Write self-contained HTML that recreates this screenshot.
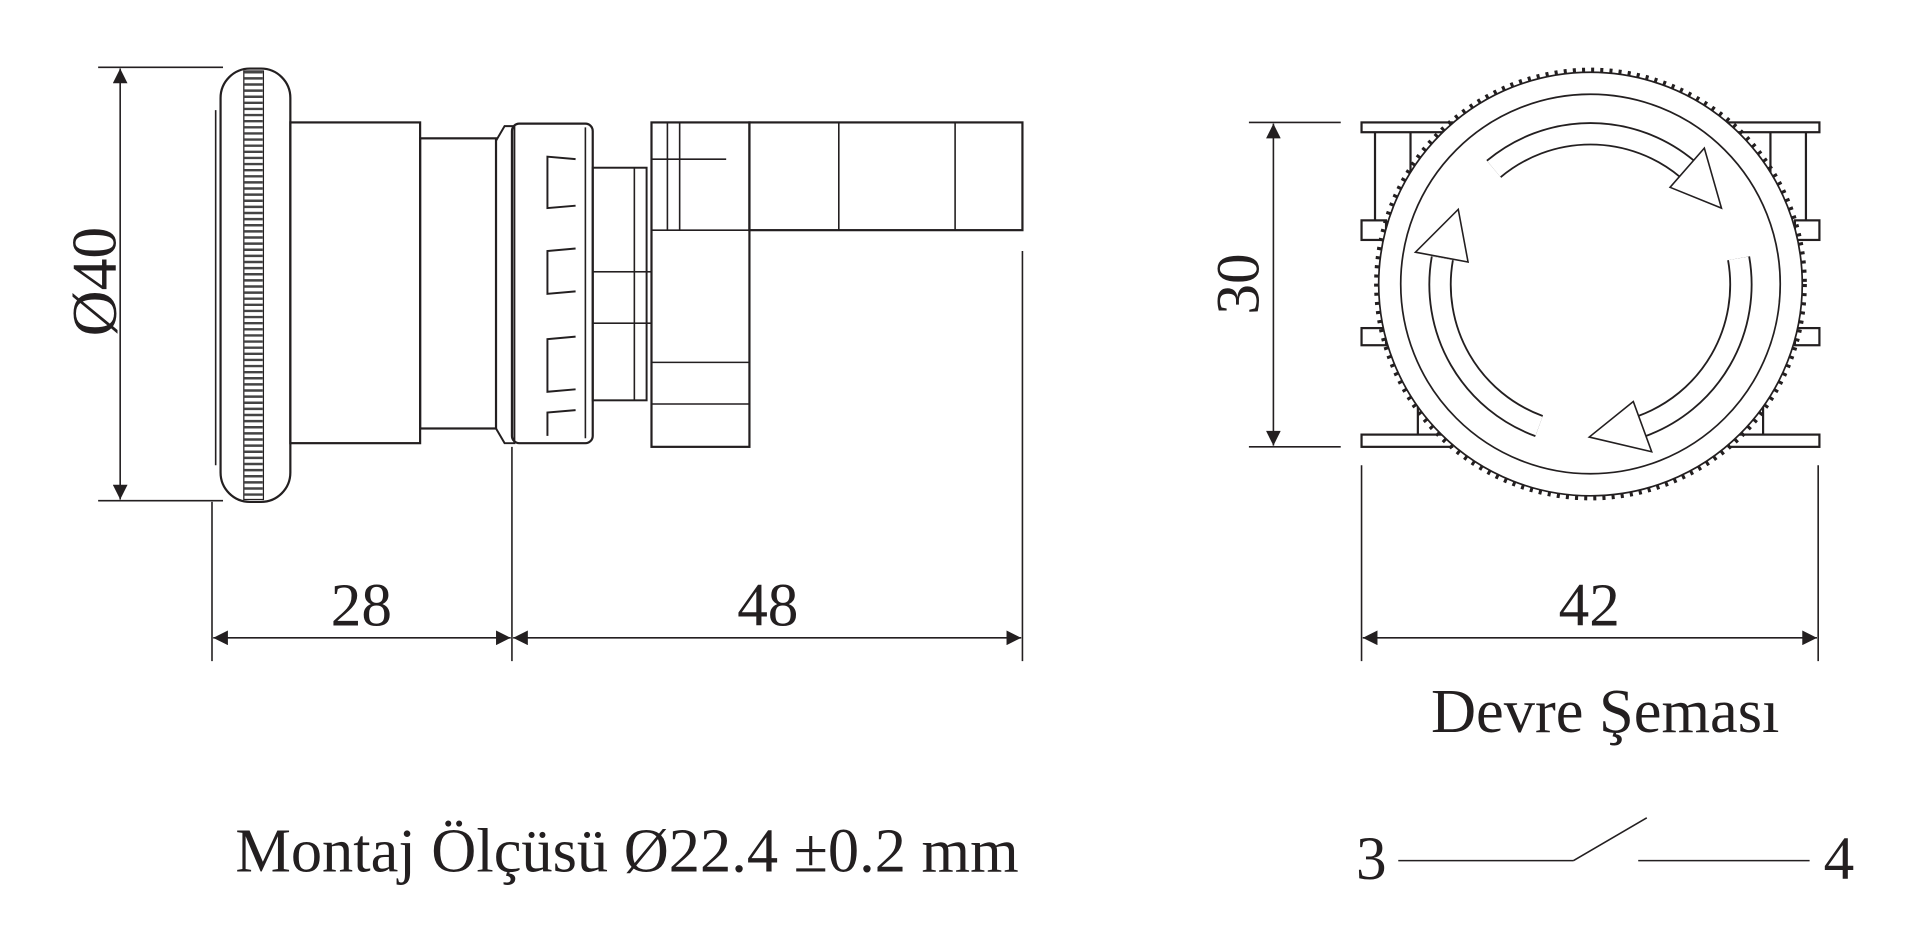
<!DOCTYPE html>
<html><head><meta charset="utf-8"><style>
html,body{margin:0;padding:0;background:#fff;}
svg{display:block}
text{font-family:"Liberation Serif",serif;fill:#231f20}
</style></head><body>
<svg width="1920" height="950" viewBox="0 0 1568 776" xmlns="http://www.w3.org/2000/svg">
<defs>
<marker id="a" viewBox="0 0 10 10" refX="10" refY="5" markerWidth="36" markerHeight="12" markerUnits="userSpaceOnUse" orient="auto-start-reverse"><path d="M0,0 L10,5 L0,10 z" fill="#231f20"/></marker>
</defs>
<g stroke="#231f20" fill="none" stroke-width="1.3">
<!-- LEFT dims -->
<line x1="80" y1="55" x2="182" y2="55"/><line x1="80" y1="409" x2="182" y2="409"/>
<line x1="98" y1="56" x2="98" y2="408" marker-start="url(#a)" marker-end="url(#a)"/>
<line x1="173" y1="410" x2="173" y2="540"/><line x1="418" y1="365" x2="418" y2="540"/><line x1="835" y1="205" x2="835" y2="540"/>
<line x1="174" y1="521" x2="417" y2="521" marker-start="url(#a)" marker-end="url(#a)"/>
<line x1="419" y1="521" x2="834" y2="521" marker-start="url(#a)" marker-end="url(#a)"/>
<!-- cap -->
<rect x="180" y="56" width="57" height="354" rx="24" stroke-width="1.8"/>
<line x1="176" y1="90" x2="176" y2="380"/>
<rect x="199" y="58" width="16" height="350" stroke-width="1"/>
<line x1="207" y1="58" x2="207" y2="408" stroke-width="15" stroke-dasharray="2 3" stroke="#444"/>
<!-- body -->
<rect x="237" y="100" width="106" height="262" stroke-width="1.8"/>
<rect x="343" y="113" width="62" height="237" stroke-width="1.8"/>
<path d="M405,115 L412,103 L420,103 L420,362 L412,362 L405,350" stroke-width="1.6"/>
<rect x="418" y="101" width="66" height="261" rx="6" stroke-width="1.8"/>
<line x1="478" y1="104" x2="478" y2="358"/>
<g stroke-width="1.6">
<path d="M470,130 L447,128 L447,170 L470,168"/><path d="M470,203 L447,205 L447,240 L470,238"/>
<path d="M470,275 L447,277 L447,320 L470,318"/><path d="M470,335 L447,337 L447,356"/>
</g>
<rect x="484" y="137" width="44" height="190" stroke-width="1.6"/>
<line x1="518" y1="137" x2="518" y2="327"/>
<rect x="484" y="222" width="48" height="42"/>
<rect x="532" y="100" width="80" height="265" stroke-width="1.8"/>
<line x1="532" y1="130" x2="593" y2="130"/><line x1="532" y1="188" x2="612" y2="188"/>
<line x1="532" y1="296" x2="612" y2="296"/><line x1="532" y1="330" x2="612" y2="330"/>
<line x1="545" y1="100" x2="545" y2="188"/><line x1="555" y1="100" x2="555" y2="188"/>
<rect x="612" y="100" width="223" height="88" stroke-width="1.8"/>
<line x1="685" y1="100" x2="685" y2="188"/><line x1="780" y1="100" x2="780" y2="188"/>
<!-- RIGHT dims -->
<line x1="1020" y1="100" x2="1095" y2="100"/><line x1="1020" y1="365" x2="1095" y2="365"/>
<line x1="1040" y1="101" x2="1040" y2="364" marker-start="url(#a)" marker-end="url(#a)"/>
<line x1="1112" y1="380" x2="1112" y2="540"/><line x1="1485" y1="380" x2="1485" y2="540"/>
<line x1="1113" y1="521" x2="1484" y2="521" marker-start="url(#a)" marker-end="url(#a)"/>
<!-- brackets -->
<g stroke-width="1.8">
<rect x="1112" y="100" width="74" height="8"/><rect x="1412" y="100" width="74" height="8"/>
<rect x="1112" y="180" width="20" height="16"/><rect x="1466" y="180" width="20" height="16"/>
<rect x="1112" y="268" width="20" height="14"/><rect x="1466" y="268" width="20" height="14"/>
<rect x="1112" y="355" width="74" height="10"/><rect x="1412" y="355" width="74" height="10"/>
<line x1="1123" y1="108" x2="1123" y2="180"/><line x1="1152" y1="108" x2="1152" y2="150"/>
<line x1="1475" y1="108" x2="1475" y2="180"/><line x1="1446" y1="108" x2="1446" y2="150"/>
<line x1="1158" y1="330" x2="1158" y2="355"/><line x1="1440" y1="330" x2="1440" y2="355"/>
</g>
<circle cx="1299" cy="232" r="173" fill="#fff" stroke-width="1.4"/>
<circle cx="1299" cy="232" r="175" stroke-width="3.5" stroke-dasharray="2.5 5"/>
<circle cx="1299" cy="232" r="155" stroke-width="1.4"/>
<!-- arrows -->
<g stroke-linecap="butt">
<path d="M1220,138 A123,123 0 0 1 1378,138" stroke-width="19"/>
<path d="M1220,138 A123,123 0 0 1 1378,138" stroke="#fff" stroke-width="16"/>
<path d="M1420,211 A123,123 0 0 1 1341,348" stroke-width="19"/>
<path d="M1420,211 A123,123 0 0 1 1341,348" stroke="#fff" stroke-width="16"/>
<path d="M1257,348 A123,123 0 0 1 1178,211" stroke-width="19"/>
<path d="M1257,348 A123,123 0 0 1 1178,211" stroke="#fff" stroke-width="16"/>
</g>
<polygon points="1364,153 1406,170 1392,121" fill="#fff"/>
<polygon points="1334,328 1298,357 1349,369" fill="#fff"/>
<polygon points="1199,214 1191,171 1156,206" fill="#fff"/>
<!-- switch -->
<line x1="1142" y1="703" x2="1285" y2="703"/><line x1="1285" y1="703" x2="1345" y2="668"/>
<line x1="1338" y1="703" x2="1478" y2="703"/>
</g>
<text x="0" y="0" font-size="52" text-anchor="middle" transform="translate(94,230) rotate(-90)">Ø40</text>
<text x="0" y="0" font-size="50" text-anchor="middle" transform="translate(1028,232) rotate(-90)">30</text>
<text x="295" y="511" font-size="50" text-anchor="middle">28</text>
<text x="627" y="511" font-size="50" text-anchor="middle">48</text>
<text x="1298" y="511" font-size="50" text-anchor="middle">42</text>
<text x="1311" y="598" font-size="51" text-anchor="middle">Devre Şeması</text>
<text x="512" y="712" font-size="51" text-anchor="middle">Montaj Ölçüsü Ø22.4 ±0.2 mm</text>
<text x="1120" y="718" font-size="50" text-anchor="middle">3</text>
<text x="1502" y="718" font-size="50" text-anchor="middle">4</text>
</svg>
</body></html>
